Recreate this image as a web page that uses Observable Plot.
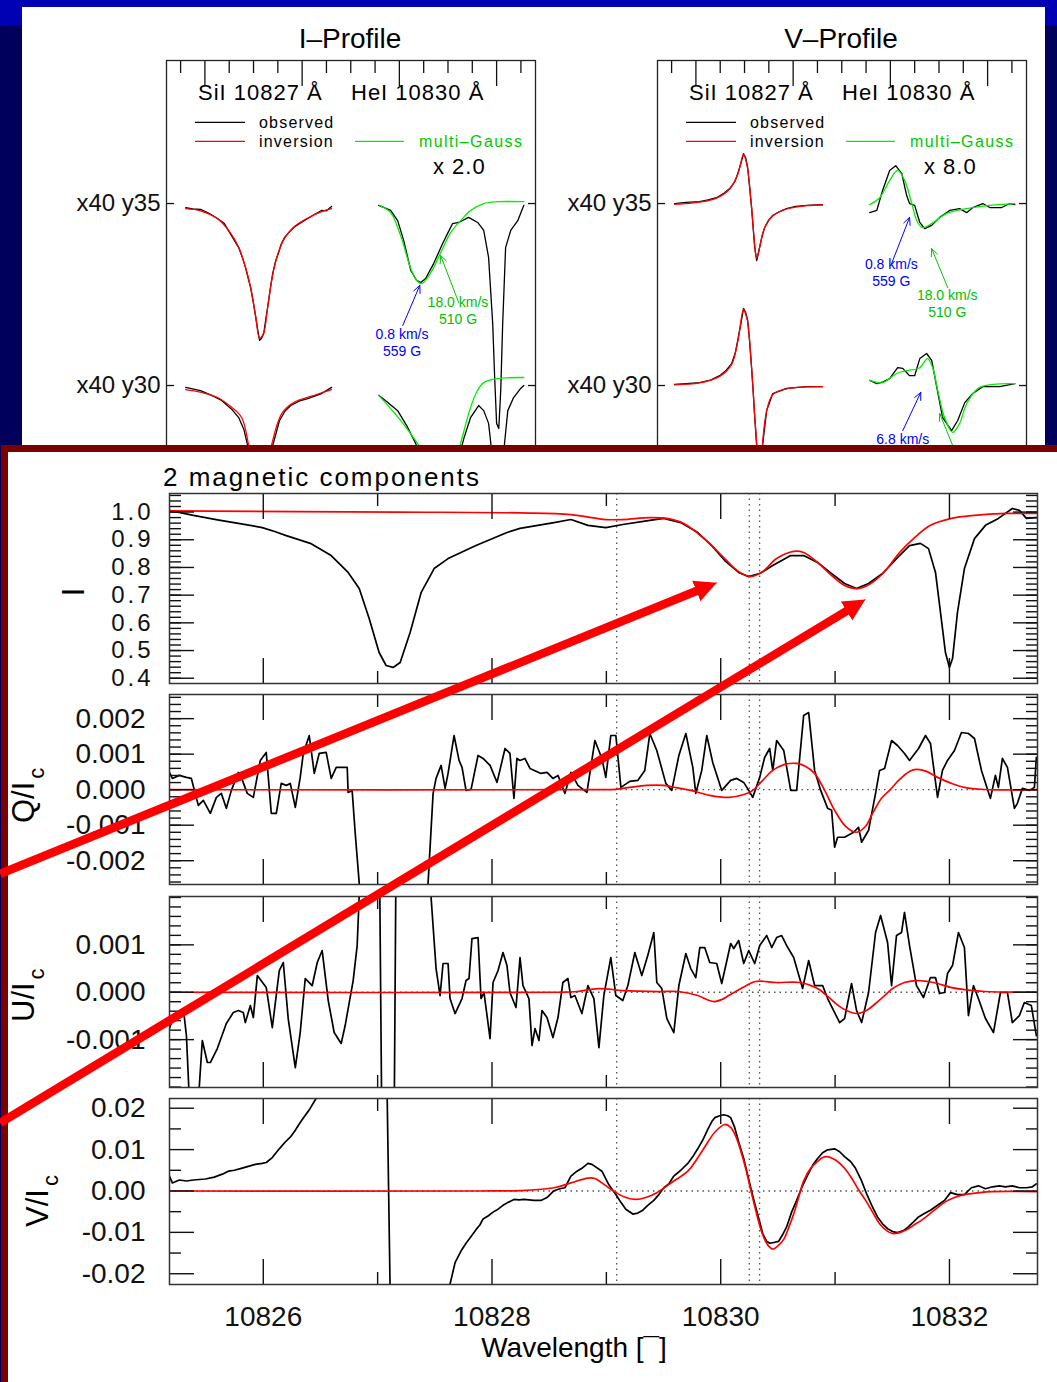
<!DOCTYPE html>
<html>
<head>
<meta charset="utf-8">
<script src="https://cdn.jsdelivr.net/npm/d3@7"></script>
<script src="https://cdn.jsdelivr.net/npm/@observablehq/plot@0.6"></script>
<style>
html, body { margin:0; padding:0; }
body { width:1057px; height:1382px; overflow:hidden; position:relative; background:#00005c; font-family:"Liberation Sans", Arial, Helvetica, sans-serif; }
.layer { position:absolute; }
.layer svg { display:block; }
#topband { position:absolute; left:0; top:0; width:1057px; height:25px; background:#0000b4; z-index:0; }
#toppanel { position:absolute; left:22px; top:7px; width:1023px; height:560px; background:#fff; z-index:1; }
#botpanel { position:absolute; left:1px; top:445px; width:1100px; height:1000px; background:#fff; border:7px solid #7b0000; z-index:4; }
</style>
</head>
<body>
<div id="topband"></div>
<div id="toppanel"></div>
<div id="botpanel"></div>
<script>
// ---------------- DATA: top profile panels (x in tick units, y in row units: rows y35 / y30) ----------------
const uDomain = [-0.58, 14.6];
const rowDomain = [25, 38.93];
const uTicksMinor = [0, 2, 3, 4, 6, 7, 8, 10, 11, 12, 14];
const uTicksMajor = [1, 5, 9, 13];
const rowTicks = [35, 30];

// I-Profile
const iSi35Obs = [[0.21,34.89],[0.5,34.85],[0.82,34.84],[1.15,34.74],[1.52,34.59],[1.8,34.45],[2.02,34.2],[2.2,34.0],[2.39,33.79],[2.55,33.5],[2.67,33.24],[2.78,32.95],[2.88,32.69],[3.0,32.25],[3.09,31.87],[3.18,31.5],[3.25,31.24],[3.33,31.3],[3.42,31.43],[3.5,31.8],[3.58,32.14],[3.7,32.7],[3.79,33.08],[3.9,33.4],[4.03,33.65],[4.15,33.9],[4.28,34.07],[4.45,34.2],[4.65,34.34],[4.9,34.45],[5.23,34.59],[5.5,34.7],[5.8,34.81],[6.0,34.8],[6.21,34.92]];
const iSi35Inv = [[0.21,34.86],[0.82,34.8],[1.52,34.58],[2.02,34.22],[2.39,33.8],[2.67,33.25],[2.88,32.7],[3.09,31.9],[3.25,31.3],[3.42,31.45],[3.58,32.15],[3.79,33.05],[4.03,33.67],[4.28,34.05],[4.65,34.35],[5.23,34.6],[5.8,34.78],[6.21,34.86]];
const iHe35Obs = [[8.15,34.95],[8.4,34.88],[8.64,34.81],[8.93,34.53],[9.18,33.98],[9.47,33.16],[9.7,32.9],[9.88,32.83],[10.08,32.94],[10.41,33.35],[10.78,33.9],[11.0,34.2],[11.19,34.45],[11.44,34.48],[11.85,34.62],[12.22,34.48],[12.47,34.26],[12.67,33.52],[12.84,31.7],[12.92,30.22],[13.0,28.96],[13.09,28.82],[13.17,29.86],[13.25,31.7],[13.37,33.79],[13.58,34.26],[13.87,34.53],[14.12,34.95]];
const iHe35Fit = [[8.19,34.95],[8.64,34.75],[9.05,34.12],[9.47,33.21],[9.7,32.9],[9.92,32.8],[10.29,33.1],[10.7,33.65],[11.11,34.2],[11.52,34.53],[11.93,34.81],[12.47,35.0],[13.05,35.05],[14.12,35.05]];
const iSi30Obs = [[0.21,29.95],[0.82,29.86],[1.3,29.72],[1.69,29.59],[2.1,29.35],[2.39,29.12],[2.6,28.8],[2.76,28.35],[3.0,27.3],[3.25,26.3],[3.5,27.3],[3.79,28.35],[4.07,29.04],[4.3,29.3],[4.53,29.45],[4.9,29.58],[5.23,29.64],[5.8,29.78],[6.21,29.95]];
const iSi30Inv = [[0.21,29.89],[0.82,29.82],[1.52,29.67],[2.1,29.4],[2.51,29.12],[2.8,28.35],[3.0,27.4],[3.25,26.4],[3.5,27.4],[3.74,28.35],[4.16,29.23],[4.65,29.53],[5.35,29.7],[6.21,29.89]];
const iHe30Obs = [[8.15,29.73],[8.5,29.55],[8.93,29.31],[9.3,28.9],[9.67,28.41],[10.29,27.39],[11.0,27.2],[11.4,27.9],[11.65,28.54],[11.93,29.12],[12.26,29.45],[12.47,29.31],[12.67,28.96],[12.84,27.94],[13.05,26.3],[13.25,27.9],[13.46,29.31],[13.7,29.67],[13.99,29.92],[14.12,30.0]];
const iHe30Fit = [[8.15,29.73],[8.6,29.4],[9.05,29.04],[9.75,28.41],[10.49,27.67],[11.32,27.94],[11.52,28.41],[11.93,29.4],[12.2,29.85],[12.47,30.08],[13.05,30.19],[14.12,30.22]];

// V-Profile
const vSi35Obs = [[0.12,35.0],[0.6,35.03],[1.15,35.05],[1.5,35.1],[1.85,35.16],[2.15,35.28],[2.39,35.41],[2.6,35.6],[2.72,35.82],[2.85,36.1],[2.96,36.37],[3.05,36.25],[3.13,35.99],[3.21,35.45],[3.29,34.89],[3.36,34.3],[3.42,33.79],[3.5,33.43],[3.56,33.6],[3.62,33.79],[3.72,34.1],[3.83,34.34],[4.0,34.55],[4.16,34.67],[4.45,34.78],[4.73,34.86],[5.1,34.92],[5.56,34.95],[6.21,34.97]];
const vSi35Inv = [[0.12,34.98],[1.15,35.04],[1.85,35.15],[2.39,35.4],[2.72,35.8],[2.96,36.35],[3.05,36.2],[3.13,35.95],[3.29,34.9],[3.42,33.85],[3.5,33.5],[3.62,33.8],[3.83,34.34],[4.16,34.66],[4.73,34.85],[5.56,34.94],[6.21,34.96]];
const vHe35Obs = [[8.15,34.75],[8.44,34.81],[8.68,35.36],[8.97,35.91],[9.22,36.04],[9.47,35.82],[9.67,35.22],[9.79,35.0],[10.0,34.95],[10.21,34.48],[10.41,34.31],[10.7,34.4],[11.03,34.62],[11.44,34.81],[11.85,34.86],[12.14,34.75],[12.39,34.89],[12.8,35.0],[13.09,34.89],[13.58,34.89],[13.91,35.0],[14.12,34.97]];
const vHe35Fit = [[8.15,34.97],[8.56,35.16],[8.97,35.63],[9.3,35.91],[9.59,35.63],[9.88,35.0],[10.12,34.48],[10.33,34.34],[10.7,34.45],[11.32,34.73],[12.14,34.86],[13.09,34.95],[14.12,35.0]];
const vSi30Obs = [[0.12,30.03],[0.6,30.05],[1.15,30.08],[1.6,30.15],[1.98,30.27],[2.25,30.42],[2.47,30.6],[2.62,30.9],[2.72,31.24],[2.85,31.7],[2.96,32.12],[3.05,32.0],[3.13,31.79],[3.21,31.2],[3.29,30.49],[3.36,29.8],[3.42,29.12],[3.5,28.35],[3.58,26.84],[3.66,27.5],[3.74,28.35],[3.91,29.31],[4.16,29.78],[4.73,29.92],[5.56,29.97],[6.21,29.97]];
const vSi30Inv = [[0.12,30.02],[1.15,30.07],[1.98,30.25],[2.47,30.58],[2.72,31.2],[2.96,32.1],[3.05,31.95],[3.13,31.75],[3.29,30.5],[3.42,29.15],[3.5,28.4],[3.58,26.9],[3.66,27.5],[3.74,28.4],[3.91,29.3],[4.16,29.75],[4.73,29.91],[5.56,29.96],[6.21,29.97]];
const vHe30Obs = [[8.15,30.14],[8.44,30.05],[8.7,30.1],[8.97,30.19],[9.3,30.49],[9.51,30.47],[9.79,30.27],[10.0,30.27],[10.21,30.74],[10.49,30.88],[10.7,30.69],[10.91,29.95],[11.15,29.12],[11.52,28.76],[11.77,29.04],[12.06,29.53],[12.39,29.78],[12.8,29.97],[13.5,29.97],[14.12,30.05]];
const vHe30Fit = [[8.15,30.14],[8.68,30.08],[9.26,30.33],[9.67,30.41],[10.21,30.49],[10.53,30.74],[10.74,30.49],[10.95,29.86],[11.23,29.12],[11.56,28.71],[11.85,28.96],[12.14,29.5],[12.67,29.95],[14.12,30.05]];

// annotations of the top panels (two-line notes: velocity / field strength)
const iBlueArrows = [{x1:9.14, y1:31.65, x2:9.84, y2:32.75}];
const iGreenArrows = [{x1:11.44, y1:32.28, x2:10.7, y2:33.57}];
const iBlueNotes = [{x:9.11, y:31.195, label:"0.8 km/s\n559 G"}];
const iGreenNotes = [{x:11.41, y:32.075, label:"18.0 km/s\n510 G"}];
const vBlueArrows = [{x1:9.05, y1:33.35, x2:9.79, y2:34.62}, {x1:9.51, y1:28.76, x2:10.25, y2:29.81}];
const vGreenArrows = [{x1:11.36, y1:32.69, x2:10.7, y2:33.76}, {x1:11.65, y1:28.21, x2:11.03, y2:29.23}];
const vBlueNotes = [{x:9.04, y:33.105, label:"0.8 km/s\n559 G"}, {x:9.51, y:28.54, label:"6.8 km/s"}];
const vGreenNotes = [{x:11.34, y:32.27, label:"18.0 km/s\n510 G"}];

// ---------------- DATA: Stokes panels (wavelength in Angstrom) ----------------
const wlDomain = [10825.18, 10832.77];
const xMajor = [10826, 10828, 10830, 10832];
const xMinor = [10827, 10829, 10831];
const dottedWl = [10829.09, 10830.25, 10830.34];

const iDomain = [0.381, 1.067];
const iMajor = [0.4, 0.5, 0.6, 0.7, 0.8, 0.9, 1.0];
const qDomain = [-0.00267, 0.00268];
const qMajor = [-0.002, -0.001, 0, 0.001, 0.002];
const uDomainS = [-0.00201, 0.00202];
const uMajor = [-0.001, 0, 0.001];
const vDomain = [-0.0226, 0.02235];
const vMajor = [-0.02, -0.01, 0, 0.01, 0.02];
const vMinor = [-0.015, -0.005, 0.005, 0.015];

const iObs = [[10825.179,1.006],[10825.389,0.988],[10825.6,0.972],[10825.782,0.959],[10825.991,0.944],[10826.1,0.93],[10826.201,0.915],[10826.411,0.887],[10826.594,0.843],[10826.742,0.782],[10826.839,0.724],[10826.926,0.616],[10827.013,0.493],[10827.074,0.446],[10827.135,0.439],[10827.197,0.457],[10827.284,0.565],[10827.380,0.709],[10827.494,0.796],[10827.616,0.832],[10827.860,0.879],[10828.131,0.926],[10828.245,0.941],[10828.542,0.962],[10828.690,0.973],[10828.839,0.952],[10828.995,0.944],[10829.144,0.955],[10829.380,0.970],[10829.502,0.977],[10829.651,0.962],[10829.799,0.926],[10829.922,0.879],[10830.035,0.825],[10830.157,0.782],[10830.245,0.767],[10830.341,0.778],[10830.455,0.807],[10830.612,0.843],[10830.725,0.843],[10830.847,0.818],[10830.970,0.778],[10831.083,0.742],[10831.188,0.724],[10831.293,0.742],[10831.415,0.778],[10831.537,0.832],[10831.651,0.879],[10831.747,0.887],[10831.817,0.868],[10831.878,0.782],[10831.922,0.637],[10831.965,0.493],[10832.000,0.439],[10832.027,0.471],[10832.070,0.637],[10832.131,0.796],[10832.219,0.904],[10832.315,0.952],[10832.428,0.977],[10832.550,1.013],[10832.612,1.006],[10832.673,0.977],[10832.760,0.980]];
const iInv = [[10825.179,1.004],[10827.171,1.0],[10828.245,0.997],[10828.690,0.991],[10828.995,0.973],[10829.144,0.973],[10829.380,0.980],[10829.529,0.977],[10829.677,0.959],[10829.799,0.923],[10829.922,0.879],[10830.035,0.832],[10830.157,0.785],[10830.262,0.767],[10830.367,0.785],[10830.489,0.832],[10830.638,0.858],[10830.725,0.854],[10830.847,0.818],[10830.970,0.771],[10831.083,0.735],[10831.205,0.724],[10831.328,0.746],[10831.441,0.789],[10831.564,0.854],[10831.686,0.904],[10831.834,0.952],[10832.018,0.977],[10832.219,0.988],[10832.493,0.995],[10832.760,0.995]];

const qObs = [[10825.179,0.486e-3],[10825.205,0.317e-3],[10825.266,0.402e-3],[10825.328,0.346e-3],[10825.371,0.317e-3],[10825.432,-0.441e-3],[10825.476,-0.301e-3],[10825.537,-0.666e-3],[10825.590,-0.216e-3],[10825.633,-0.104e-3],[10825.677,-0.525e-3],[10825.721,-0.020e-3],[10825.782,0.486e-3],[10825.808,0.346e-3],[10825.860,-0.104e-3],[10825.913,-0.216e-3],[10825.974,0.823e-3],[10826.026,1.048e-3],[10826.070,-0.666e-3],[10826.114,-0.666e-3],[10826.157,0.177e-3],[10826.201,0.121e-3],[10826.236,0.177e-3],[10826.280,-0.497e-3],[10826.323,0.346e-3],[10826.350,1.020e-3],[10826.402,1.525e-3],[10826.446,0.458e-3],[10826.489,1.020e-3],[10826.550,1.048e-3],[10826.594,0.317e-3],[10826.638,0.626e-3],[10826.681,0.626e-3],[10826.734,0.626e-3],[10826.742,-0.076e-3],[10826.777,-0.020e-3],[10826.804,-1.228e-3],[10826.839,-2.63e-3],[10826.865,-8e-3],[10827.415,-8e-3],[10827.441,-2.63e-3],[10827.485,-0.104e-3],[10827.511,0.317e-3],[10827.555,0.683e-3],[10827.590,0.037e-3],[10827.616,0.458e-3],[10827.668,1.525e-3],[10827.712,0.823e-3],[10827.738,0.626e-3],[10827.773,-0.020e-3],[10827.817,0.008e-3],[10827.878,0.963e-3],[10827.922,0.879e-3],[10827.983,0.683e-3],[10828.044,0.205e-3],[10828.114,1.160e-3],[10828.157,1.020e-3],[10828.192,-0.244e-3],[10828.218,0.879e-3],[10828.245,0.823e-3],[10828.288,0.879e-3],[10828.332,0.598e-3],[10828.428,0.458e-3],[10828.481,0.486e-3],[10828.533,0.317e-3],[10828.577,0.402e-3],[10828.638,-0.104e-3],[10828.690,0.486e-3],[10828.751,0.121e-3],[10828.830,-0.076e-3],[10828.900,1.385e-3],[10828.961,0.879e-3],[10828.995,0.346e-3],[10829.039,1.525e-3],[10829.083,1.525e-3],[10829.127,0.065e-3],[10829.205,0.233e-3],[10829.275,0.261e-3],[10829.336,0.542e-3],[10829.380,1.581e-3],[10829.441,1.104e-3],[10829.520,0.177e-3],[10829.572,-0.020e-3],[10829.634,0.963e-3],[10829.695,1.581e-3],[10829.756,0.626e-3],[10829.782,-0.104e-3],[10829.834,0.542e-3],[10829.878,1.525e-3],[10829.930,0.767e-3],[10830.009,-0.020e-3],[10830.087,0.261e-3],[10830.140,0.317e-3],[10830.201,0.205e-3],[10830.245,-0.020e-3],[10830.280,-0.216e-3],[10830.341,0.346e-3],[10830.384,0.907e-3],[10830.428,1.160e-3],[10830.455,0.542e-3],[10830.489,1.385e-3],[10830.551,1.104e-3],[10830.612,-0.020e-3],[10830.664,-0.020e-3],[10830.725,2.087e-3],[10830.769,2.171e-3],[10830.821,0.542e-3],[10830.874,-0.020e-3],[10830.935,-0.525e-3],[10830.970,-0.581e-3],[10830.996,-1.621e-3],[10831.022,-1.340e-3],[10831.083,-1.340e-3],[10831.162,-1.199e-3],[10831.205,-1.059e-3],[10831.232,-1.480e-3],[10831.293,-1.143e-3],[10831.354,-0.104e-3],[10831.389,0.542e-3],[10831.433,0.598e-3],[10831.494,1.385e-3],[10831.546,1.244e-3],[10831.607,1.020e-3],[10831.651,0.823e-3],[10831.730,1.160e-3],[10831.791,1.525e-3],[10831.834,1.301e-3],[10831.896,-0.216e-3],[10831.939,0.542e-3],[10831.983,0.823e-3],[10832.044,1.104e-3],[10832.105,1.610e-3],[10832.166,1.581e-3],[10832.219,1.441e-3],[10832.280,0.542e-3],[10832.358,-0.244e-3],[10832.402,0.402e-3],[10832.428,0.065e-3],[10832.463,0.879e-3],[10832.507,0.626e-3],[10832.568,-0.525e-3],[10832.594,-0.385e-3],[10832.638,0.037e-3],[10832.699,-0.020e-3],[10832.743,0.065e-3],[10832.760,0.907e-3]];
const qInv = [[10825.179,0],[10828.943,0],[10829.083,0.01e-3],[10829.205,0.065e-3],[10829.352,0.12e-3],[10829.502,0.121e-3],[10829.620,0.05e-3],[10829.738,-0.02e-3],[10829.904,-0.16e-3],[10830.070,-0.216e-3],[10830.210,-0.13e-3],[10830.280,-0.02e-3],[10830.367,0.261e-3],[10830.455,0.542e-3],[10830.560,0.711e-3],[10830.664,0.739e-3],[10830.743,0.654e-3],[10830.821,0.458e-3],[10830.909,-0.02e-3],[10830.996,-0.581e-3],[10831.092,-1.031e-3],[10831.188,-1.199e-3],[10831.267,-1.031e-3],[10831.328,-0.666e-3],[10831.406,-0.244e-3],[10831.476,-0.02e-3],[10831.564,0.289e-3],[10831.651,0.514e-3],[10831.712,0.570e-3],[10831.799,0.514e-3],[10831.896,0.346e-3],[10832.018,0.177e-3],[10832.131,0.065e-3],[10832.306,0.005e-3],[10832.760,0]];

const uObs = [[10825.179,-0.766e-3],[10825.205,-0.597e-3],[10825.266,-0.428e-3],[10825.301,-0.344e-3],[10825.328,-0.914e-3],[10825.354,-2.3e-3],[10825.432,-2.3e-3],[10825.467,-1.019e-3],[10825.511,-1.483e-3],[10825.537,-1.483e-3],[10825.598,-1.188e-3],[10825.677,-0.660e-3],[10825.738,-0.428e-3],[10825.782,-0.386e-3],[10825.825,-0.428e-3],[10825.843,-0.639e-3],[10825.887,-0.281e-3],[10825.913,-0.534e-3],[10825.948,0.352e-3],[10826.026,0.099e-3],[10826.079,-0.745e-3],[10826.140,0.458e-3],[10826.175,0.627e-3],[10826.218,-0.555e-3],[10826.280,-1.589e-3],[10826.323,-0.850e-3],[10826.367,0.289e-3],[10826.428,0.141e-3],[10826.472,0.627e-3],[10826.515,0.880e-3],[10826.568,-0.175e-3],[10826.620,-0.850e-3],[10826.681,-1.083e-3],[10826.716,-0.703e-3],[10826.786,0.247e-3],[10826.821,0.985e-3],[10826.839,2.04e-3],[10826.865,6e-3],[10827.005,6e-3],[10827.048,-6e-3],[10827.135,-6e-3],[10827.170,6e-3],[10827.432,6e-3],[10827.468,1.979e-3],[10827.511,0.500e-3],[10827.546,-0.070e-3],[10827.572,0.606e-3],[10827.616,0.606e-3],[10827.633,-0.133e-3],[10827.677,-0.449e-3],[10827.738,-0.133e-3],[10827.773,0.247e-3],[10827.799,0.289e-3],[10827.825,1.133e-3],[10827.878,1.154e-3],[10827.904,-0.133e-3],[10827.930,-0.006e-3],[10827.983,-0.977e-3],[10828.009,0.205e-3],[10828.053,0.458e-3],[10828.096,0.838e-3],[10828.131,0.563e-3],[10828.157,-0.006e-3],[10828.210,-0.323e-3],[10828.245,0.732e-3],[10828.271,0.141e-3],[10828.323,-0.133e-3],[10828.350,-1.125e-3],[10828.376,-0.766e-3],[10828.411,-1.019e-3],[10828.437,-0.386e-3],[10828.481,-0.534e-3],[10828.533,-0.956e-3],[10828.577,-0.534e-3],[10828.620,0.205e-3],[10828.664,0.289e-3],[10828.690,-0.112e-3],[10828.725,-0.070e-3],[10828.786,-0.449e-3],[10828.839,0.141e-3],[10828.891,-0.133e-3],[10828.935,-1.167e-3],[10828.978,-0.070e-3],[10829.039,0.732e-3],[10829.083,-0.070e-3],[10829.144,-0.175e-3],[10829.188,0.141e-3],[10829.249,0.838e-3],[10829.310,0.352e-3],[10829.362,0.774e-3],[10829.415,1.260e-3],[10829.441,0.205e-3],[10829.485,0.078e-3],[10829.529,-0.555e-3],[10829.590,-0.850e-3],[10829.634,0.141e-3],[10829.695,0.817e-3],[10829.738,0.500e-3],[10829.782,0.310e-3],[10829.817,0.943e-3],[10829.860,0.943e-3],[10829.904,0.627e-3],[10829.965,0.606e-3],[10830.009,0.184e-3],[10830.087,1.028e-3],[10830.114,0.922e-3],[10830.157,1.091e-3],[10830.201,0.606e-3],[10830.245,0.880e-3],[10830.297,0.606e-3],[10830.341,0.985e-3],[10830.402,1.197e-3],[10830.446,0.943e-3],[10830.489,1.154e-3],[10830.533,1.197e-3],[10830.577,0.985e-3],[10830.638,0.732e-3],[10830.716,0.078e-3],[10830.769,0.669e-3],[10830.821,0.141e-3],[10830.891,0.141e-3],[10830.935,-0.133e-3],[10830.996,-0.428e-3],[10831.040,-0.639e-3],[10831.083,-0.555e-3],[10831.144,0.184e-3],[10831.188,-0.386e-3],[10831.232,-0.639e-3],[10831.293,-0.006e-3],[10831.354,1.260e-3],[10831.398,1.620e-3],[10831.459,1.049e-3],[10831.494,0.141e-3],[10831.537,1.197e-3],[10831.581,1.260e-3],[10831.607,1.683e-3],[10831.651,0.985e-3],[10831.712,0.141e-3],[10831.773,-0.112e-3],[10831.834,0.310e-3],[10831.878,0.310e-3],[10831.913,-0.027e-3],[10831.957,-0.006e-3],[10831.983,0.395e-3],[10832.027,0.563e-3],[10832.079,1.260e-3],[10832.131,0.943e-3],[10832.166,-0.492e-3],[10832.210,0.141e-3],[10832.253,-0.133e-3],[10832.315,-0.555e-3],[10832.385,-0.850e-3],[10832.446,-0.006e-3],[10832.507,-0.006e-3],[10832.550,-0.639e-3],[10832.612,-0.492e-3],[10832.655,-0.217e-3],[10832.716,-0.281e-3],[10832.760,-0.914e-3]];
const uInv = [[10825.179,0],[10828.594,0],[10828.725,0.01e-3],[10828.935,0.078e-3],[10829.144,0.036e-3],[10829.468,0.015e-3],[10829.625,0.015e-3],[10829.799,-0.070e-3],[10829.878,-0.154e-3],[10829.948,-0.196e-3],[10830.009,-0.154e-3],[10830.070,-0.070e-3],[10830.131,0.015e-3],[10830.192,0.099e-3],[10830.306,0.226e-3],[10830.489,0.205e-3],[10830.699,0.205e-3],[10830.847,0.078e-3],[10830.917,-0.049e-3],[10830.996,-0.217e-3],[10831.083,-0.365e-3],[10831.188,-0.449e-3],[10831.275,-0.386e-3],[10831.354,-0.238e-3],[10831.433,-0.070e-3],[10831.503,0.078e-3],[10831.607,0.205e-3],[10831.703,0.247e-3],[10831.808,0.226e-3],[10831.896,0.184e-3],[10832.018,0.099e-3],[10832.131,0.057e-3],[10832.306,0.015e-3],[10832.760,0]];

const vObs = [[10825.179,0.360e-2],[10825.205,0.195e-2],[10825.266,0.266e-2],[10825.328,0.242e-2],[10825.389,0.266e-2],[10825.494,0.289e-2],[10825.572,0.336e-2],[10825.642,0.407e-2],[10825.694,0.478e-2],[10825.747,0.501e-2],[10825.808,0.548e-2],[10825.869,0.595e-2],[10825.930,0.642e-2],[10825.991,0.666e-2],[10826.026,0.689e-2],[10826.079,0.807e-2],[10826.140,1.019e-2],[10826.192,1.184e-2],[10826.236,1.301e-2],[10826.280,1.466e-2],[10826.323,1.654e-2],[10826.358,1.795e-2],[10826.402,1.960e-2],[10826.463,2.242e-2],[10826.507,2.478e-2],[10826.585,4e-2],[10827.074,4e-2],[10827.118,-4e-2],[10827.589,-4e-2],[10827.633,-2.25e-2],[10827.677,-1.734e-2],[10827.729,-1.452e-2],[10827.773,-1.264e-2],[10827.817,-1.099e-2],[10827.860,-0.934e-2],[10827.895,-0.816e-2],[10827.922,-0.675e-2],[10827.965,-0.605e-2],[10828.009,-0.511e-2],[10828.053,-0.440e-2],[10828.096,-0.346e-2],[10828.140,-0.275e-2],[10828.192,-0.205e-2],[10828.236,-0.216e-2],[10828.280,-0.205e-2],[10828.367,-0.228e-2],[10828.428,-0.228e-2],[10828.481,-0.158e-2],[10828.542,0.007e-2],[10828.594,0.054e-2],[10828.638,0.078e-2],[10828.690,0.360e-2],[10828.743,0.478e-2],[10828.786,0.548e-2],[10828.839,0.666e-2],[10828.874,0.642e-2],[10828.900,0.595e-2],[10828.961,0.478e-2],[10829.022,0.148e-2],[10829.083,-0.087e-2],[10829.127,-0.275e-2],[10829.170,-0.440e-2],[10829.232,-0.558e-2],[10829.275,-0.534e-2],[10829.319,-0.464e-2],[10829.362,-0.346e-2],[10829.415,-0.228e-2],[10829.459,-0.087e-2],[10829.502,0.078e-2],[10829.546,0.172e-2],[10829.590,0.360e-2],[10829.651,0.501e-2],[10829.712,0.666e-2],[10829.756,0.831e-2],[10829.799,1.019e-2],[10829.843,1.231e-2],[10829.887,1.489e-2],[10829.922,1.678e-2],[10829.948,1.772e-2],[10829.991,1.819e-2],[10830.026,1.842e-2],[10830.061,1.819e-2],[10830.087,1.772e-2],[10830.122,1.536e-2],[10830.157,1.184e-2],[10830.201,0.784e-2],[10830.236,0.384e-2],[10830.271,-0.016e-2],[10830.306,-0.393e-2],[10830.341,-0.746e-2],[10830.367,-1.028e-2],[10830.402,-1.216e-2],[10830.428,-1.264e-2],[10830.472,-1.240e-2],[10830.507,-1.216e-2],[10830.542,-1.052e-2],[10830.577,-0.864e-2],[10830.620,-0.511e-2],[10830.664,-0.228e-2],[10830.708,0.078e-2],[10830.760,0.384e-2],[10830.804,0.619e-2],[10830.847,0.784e-2],[10830.891,0.925e-2],[10830.935,0.995e-2],[10830.996,1.019e-2],[10831.040,0.948e-2],[10831.083,0.831e-2],[10831.135,0.713e-2],[10831.179,0.548e-2],[10831.232,0.242e-2],[10831.275,-0.064e-2],[10831.328,-0.393e-2],[10831.371,-0.628e-2],[10831.415,-0.793e-2],[10831.459,-0.911e-2],[10831.503,-0.981e-2],[10831.546,-1.005e-2],[10831.598,-0.958e-2],[10831.642,-0.864e-2],[10831.686,-0.746e-2],[10831.730,-0.628e-2],[10831.773,-0.558e-2],[10831.834,-0.464e-2],[10831.896,-0.346e-2],[10831.957,-0.228e-2],[10832.009,-0.040e-2],[10832.070,-0.087e-2],[10832.131,-0.087e-2],[10832.192,0.078e-2],[10832.253,0.125e-2],[10832.315,0.054e-2],[10832.376,0.101e-2],[10832.437,0.125e-2],[10832.489,0.101e-2],[10832.550,0.125e-2],[10832.612,0.078e-2],[10832.673,0.078e-2],[10832.725,0.101e-2],[10832.760,0.172e-2]];
const vInv = [[10825.179,0],[10827.895,0],[10828.245,0.01e-2],[10828.542,0.078e-2],[10828.690,0.195e-2],[10828.839,0.313e-2],[10828.900,0.301e-2],[10828.961,0.195e-2],[10829.083,-0.040e-2],[10829.170,-0.158e-2],[10829.258,-0.205e-2],[10829.345,-0.158e-2],[10829.441,-0.040e-2],[10829.590,0.242e-2],[10829.712,0.478e-2],[10829.834,0.948e-2],[10829.948,1.419e-2],[10830.035,1.607e-2],[10830.087,1.536e-2],[10830.131,1.325e-2],[10830.175,0.972e-2],[10830.218,0.548e-2],[10830.262,0.031e-2],[10830.306,-0.464e-2],[10830.349,-0.911e-2],[10830.384,-1.169e-2],[10830.419,-1.334e-2],[10830.455,-1.405e-2],[10830.498,-1.334e-2],[10830.551,-1.169e-2],[10830.594,-0.887e-2],[10830.638,-0.558e-2],[10830.681,-0.158e-2],[10830.725,0.242e-2],[10830.786,0.548e-2],[10830.847,0.713e-2],[10830.891,0.807e-2],[10830.935,0.831e-2],[10830.978,0.784e-2],[10831.022,0.713e-2],[10831.083,0.548e-2],[10831.144,0.313e-2],[10831.205,0.031e-2],[10831.267,-0.228e-2],[10831.328,-0.511e-2],[10831.389,-0.793e-2],[10831.450,-0.958e-2],[10831.503,-1.028e-2],[10831.564,-1.005e-2],[10831.625,-0.934e-2],[10831.694,-0.816e-2],[10831.773,-0.675e-2],[10831.869,-0.464e-2],[10831.957,-0.275e-2],[10832.044,-0.158e-2],[10832.131,-0.087e-2],[10832.262,-0.040e-2],[10832.376,-0.016e-2],[10832.760,-0.016e-2]];

// red arrows (in the I panel's wavelength / intensity coordinates)
const redArrows = [
  {x1:10823.70, y1:-0.306, x2:10829.965, y2:0.745},
  {x1:10823.70, y1:-1.205, x2:10831.265, y2:0.684}
];

// ---------------- helpers ----------------
const FONT = "'Liberation Sans', Arial, Helvetica, sans-serif";
const baseStyle = {background:"none", fontFamily:FONT, color:"#111", overflow:"visible"};
function place(node, left, topPx, z) {
  const d = document.createElement("div");
  d.className = "layer";
  d.style.left = left + "px"; d.style.top = topPx + "px"; d.style.zIndex = z;
  d.appendChild(node); document.body.appendChild(d); return d;
}
const X = d => d[0], Y = d => d[1];
const blank = () => "";

function profilePlot(c) {
  return Plot.plot({
    width:520, height:575, marginLeft:144, marginRight:7, marginTop:60, marginBottom:8,
    x:{domain:uDomain}, y:{domain:rowDomain},
    style:baseStyle,
    marks:[
      Plot.line(c.si35Obs, {x:X, y:Y, stroke:"#000", strokeWidth:1.3, clip:true}),
      Plot.line(c.si30Obs, {x:X, y:Y, stroke:"#000", strokeWidth:1.3, clip:true}),
      Plot.line(c.he35Obs, {x:X, y:Y, stroke:"#000", strokeWidth:1.3, clip:true}),
      Plot.line(c.he30Obs, {x:X, y:Y, stroke:"#000", strokeWidth:1.3, clip:true}),
      Plot.line(c.si35Inv, {x:X, y:Y, stroke:"#ff0000", strokeWidth:1.3, clip:true, curve:"catmull-rom"}),
      Plot.line(c.si30Inv, {x:X, y:Y, stroke:"#ff0000", strokeWidth:1.3, clip:true, curve:"catmull-rom"}),
      Plot.line(c.he35Fit, {x:X, y:Y, stroke:"#00ee00", strokeWidth:1.3, clip:true, curve:"catmull-rom"}),
      Plot.line(c.he30Fit, {x:X, y:Y, stroke:"#00ee00", strokeWidth:1.3, clip:true, curve:"catmull-rom"}),
      Plot.arrow(c.blueArrows, {x1:"x1", y1:"y1", x2:"x2", y2:"y2", stroke:"#0000ff", strokeWidth:1, headLength:12, headAngle:50}),
      Plot.arrow(c.greenArrows, {x1:"x1", y1:"y1", x2:"x2", y2:"y2", stroke:"#00c800", strokeWidth:1, headLength:12, headAngle:50}),
      Plot.text(c.blueNotes, {x:"x", y:"y", text:"label", fill:"#0000ff", fontSize:14, lineHeight:1.2}),
      Plot.text(c.greenNotes, {x:"x", y:"y", text:"label", fill:"#00c000", fontSize:14, lineHeight:1.2}),
      Plot.axisX(uTicksMinor, {anchor:"top", tickSize:-12, tickFormat:blank, label:null, strokeWidth:1.3}),
      Plot.axisX(uTicksMajor, {anchor:"top", tickSize:-25, tickFormat:blank, label:null, strokeWidth:1.3}),
      Plot.axisY(rowTicks, {anchor:"left", tickSize:-8, tickPadding:14, tickFormat:d => `x40 y${d}`, fontSize:24, label:null, strokeWidth:1.3}),
      Plot.axisY(rowTicks, {anchor:"right", tickSize:-8, tickFormat:blank, label:null, strokeWidth:1.3}),
      Plot.frame({stroke:"#222", strokeWidth:1.3})
    ]
  });
}

function stokesPanel(c) {
  const tw = 1.4;
  const marks = [Plot.ruleX(dottedWl, {stroke:"#555", strokeWidth:1.3, strokeDasharray:"1.5,4"})];
  if (c.zero) marks.push(Plot.ruleY([0], {stroke:"#555", strokeWidth:1.3, strokeDasharray:"1.5,4"}));
  marks.push(
    Plot.line(c.obs, {x:X, y:Y, stroke:"#000", strokeWidth:1.7, clip:true}),
    Plot.line(c.inv, {x:X, y:Y, stroke:"#ff0000", strokeWidth:1.7, clip:true, curve:"catmull-rom"}),
    Plot.axisY(c.yMinor, {anchor:"left", tickSize:-12, tickFormat:blank, label:null, strokeWidth:tw}),
    Plot.axisY(c.yMajor, {anchor:"left", tickSize:-25, tickPadding:c.pad, tickFormat:c.fmt, fontSize:c.labelSize || 28, label:null, strokeWidth:tw}),
    Plot.axisY(c.yMinor, {anchor:"right", tickSize:-12, tickFormat:blank, label:null, strokeWidth:tw}),
    Plot.axisY(c.yMajor, {anchor:"right", tickSize:-25, tickFormat:blank, label:null, strokeWidth:tw}),
    Plot.axisX(xMinor, {anchor:"top", tickSize:-12, tickFormat:blank, label:null, strokeWidth:tw}),
    Plot.axisX(xMajor, {anchor:"top", tickSize:-25, tickFormat:blank, label:null, strokeWidth:tw}),
    Plot.axisX(xMinor, {anchor:"bottom", tickSize:-12, tickFormat:blank, label:null, strokeWidth:tw}),
    Plot.axisX(xMajor, {anchor:"bottom", tickSize:-25, tickPadding:47, tickFormat:c.xLabels ? (d => String(d)) : blank, fontSize:28, label:null, strokeWidth:tw}),
    Plot.frame({stroke:"#333", strokeWidth:1.5})
  );
  const svg = Plot.plot({
    width:1057, height:c.height, marginLeft:169, marginRight:20, marginTop:5, marginBottom:c.mb,
    x:{domain:wlDomain}, y:{domain:c.yDomain},
    style:baseStyle, marks
  });
  if (c.labelSpacing) d3.select(svg).selectAll('g[aria-label="y-axis tick label"] text').attr("letter-spacing", c.labelSpacing);
  return svg;
}

// ---------------- top profile plots ----------------
place(profilePlot({si35Obs:iSi35Obs, si35Inv:iSi35Inv, he35Obs:iHe35Obs, he35Fit:iHe35Fit,
  si30Obs:iSi30Obs, si30Inv:iSi30Inv, he30Obs:iHe30Obs, he30Fit:iHe30Fit,
  blueArrows:iBlueArrows, greenArrows:iGreenArrows, blueNotes:iBlueNotes, greenNotes:iGreenNotes}), 22, 0, 2);
place(profilePlot({si35Obs:vSi35Obs, si35Inv:vSi35Inv, he35Obs:vHe35Obs, he35Fit:vHe35Fit,
  si30Obs:vSi30Obs, si30Inv:vSi30Inv, he30Obs:vHe30Obs, he30Fit:vHe30Fit,
  blueArrows:vBlueArrows, greenArrows:vGreenArrows, blueNotes:vBlueNotes, greenNotes:vGreenNotes}), 513, 0, 2);

// top titles and legends
const topLayer = d3.create("svg").attr("width", 1057).attr("height", 450).style("font-family", FONT);
function legend(ox, info) {
  topLayer.append("text").attr("x", ox + 184).attr("y", 48).attr("text-anchor", "middle").attr("font-size", 28).text(info.title);
  topLayer.append("text").attr("x", ox + 32).attr("y", 100).attr("font-size", 22).attr("letter-spacing", 1).text("SiI 10827 Å");
  topLayer.append("text").attr("x", ox + 185).attr("y", 100).attr("font-size", 22).attr("letter-spacing", 1).text("HeI 10830 Å");
  topLayer.append("line").attr("x1", ox + 29).attr("x2", ox + 79).attr("y1", 122.3).attr("y2", 122.3).attr("stroke", "#000").attr("stroke-width", 1.3);
  topLayer.append("line").attr("x1", ox + 29).attr("x2", ox + 79).attr("y1", 141.3).attr("y2", 141.3).attr("stroke", "#ff0000").attr("stroke-width", 1.3);
  topLayer.append("line").attr("x1", ox + 189).attr("x2", ox + 238).attr("y1", 141.3).attr("y2", 141.3).attr("stroke", "#00ee00").attr("stroke-width", 1.3);
  topLayer.append("text").attr("x", ox + 93).attr("y", 127.5).attr("font-size", 16).attr("letter-spacing", 1.2).text("observed");
  topLayer.append("text").attr("x", ox + 93).attr("y", 146.5).attr("font-size", 16).attr("letter-spacing", 1.2).text("inversion");
  topLayer.append("text").attr("x", ox + 253).attr("y", 146.5).attr("font-size", 16).attr("letter-spacing", 1.4).attr("fill", "#00c800").text("multi–Gauss");
  topLayer.append("text").attr("x", ox + 267).attr("y", 174).attr("font-size", 22).attr("letter-spacing", 1).text(info.factor);
}
legend(166, {title:"I–Profile", factor:"x 2.0"});
legend(657, {title:"V–Profile", factor:"x 8.0"});
place(topLayer.node(), 0, 0, 3);

// ---------------- Stokes panels ----------------
const iMinor = d3.range(20, 54).map(i => +(i * 0.02).toFixed(2));
const qMinor = d3.range(-13, 14).map(i => +(i * 0.0002).toFixed(4));
const uMinor = d3.range(-10, 11).map(i => +(i * 0.0002).toFixed(4));

place(stokesPanel({obs:iObs, inv:iInv, yDomain:iDomain, yMajor:iMajor, yMinor:iMinor, fmt:d => d.toFixed(1), pad:41, labelSize:24, labelSpacing:3, height:200, mb:5, zero:false}), 0, 488, 5);
place(stokesPanel({obs:qObs, inv:qInv, yDomain:qDomain, yMajor:qMajor, yMinor:qMinor, fmt:d => d.toFixed(3), pad:49, height:200, mb:5, zero:true}), 0, 689, 5);
place(stokesPanel({obs:uObs, inv:uInv, yDomain:uDomainS, yMajor:uMajor, yMinor:uMinor, fmt:d => d.toFixed(3), pad:49, height:201, mb:5, zero:true}), 0, 891, 5);
place(stokesPanel({obs:vObs, inv:vInv, yDomain:vDomain, yMajor:vMajor, yMinor:vMinor, fmt:d => d.toFixed(2), pad:49, height:286, mb:95, zero:true, xLabels:true}), 0, 1093, 5);

// labels of the Stokes panels
const lab = d3.create("svg").attr("width", 1057).attr("height", 1382).style("font-family", FONT);
lab.append("text").attr("x", 163).attr("y", 486).attr("font-size", 26).attr("letter-spacing", 2).text("2 magnetic components");
lab.append("text").attr("x", 574).attr("y", 1357).attr("text-anchor", "middle").attr("font-size", 28).text("Wavelength [¯]");
function ylab(x, y, main, sub, anchor) {
  const t = lab.append("text").attr("transform", `translate(${x},${y}) rotate(-90)`).attr("font-size", 31).attr("text-anchor", anchor);
  t.append("tspan").text(main);
  if (sub) t.append("tspan").attr("font-size", 22).attr("dx", 3).attr("dy", 10).text(sub);
}
ylab(84, 592, "I", null, "middle");
ylab(34, 823, "Q/I", "c", "start");
ylab(34, 1022, "U/I", "c", "start");
ylab(48, 1227, "V/I", "c", "start");
place(lab.node(), 0, 0, 6);

// ---------------- red arrows overlay ----------------
const ov = Plot.plot({
  width:1057, height:1382, marginLeft:169, marginRight:20, marginTop:493, marginBottom:699,
  x:{domain:wlDomain, axis:null}, y:{domain:iDomain, axis:null},
  style:baseStyle,
  marks:[
    Plot.arrow(redArrows, {x1:"x1", y1:"y1", x2:"x2", y2:"y2", stroke:"#ff0000", strokeWidth:8.5, headLength:0, insetEnd:14, strokeLinecap:"butt"}),
    Plot.link(redArrows, {x1:"x1", y1:"y1", x2:"x2", y2:"y2", stroke:"#ff0000", strokeWidth:1})
  ]
});
const ovSel = d3.select(ov);
const defs = ovSel.insert("defs", ":first-child");
defs.append("marker").attr("id", "redhead").attr("markerUnits", "userSpaceOnUse")
  .attr("markerWidth", 23).attr("markerHeight", 24).attr("viewBox", "0 0 23 24")
  .attr("refX", 22).attr("refY", 12).attr("orient", "auto")
  .append("path").attr("d", "M0,1L22,12L0,23Z").attr("fill", "#ff0000");
ovSel.selectAll('g[aria-label="link"] path').attr("marker-end", "url(#redhead)");
const ovDiv = place(ov, 0, 0, 7);
ovDiv.style.pointerEvents = "none";
</script>
</body>
</html>
